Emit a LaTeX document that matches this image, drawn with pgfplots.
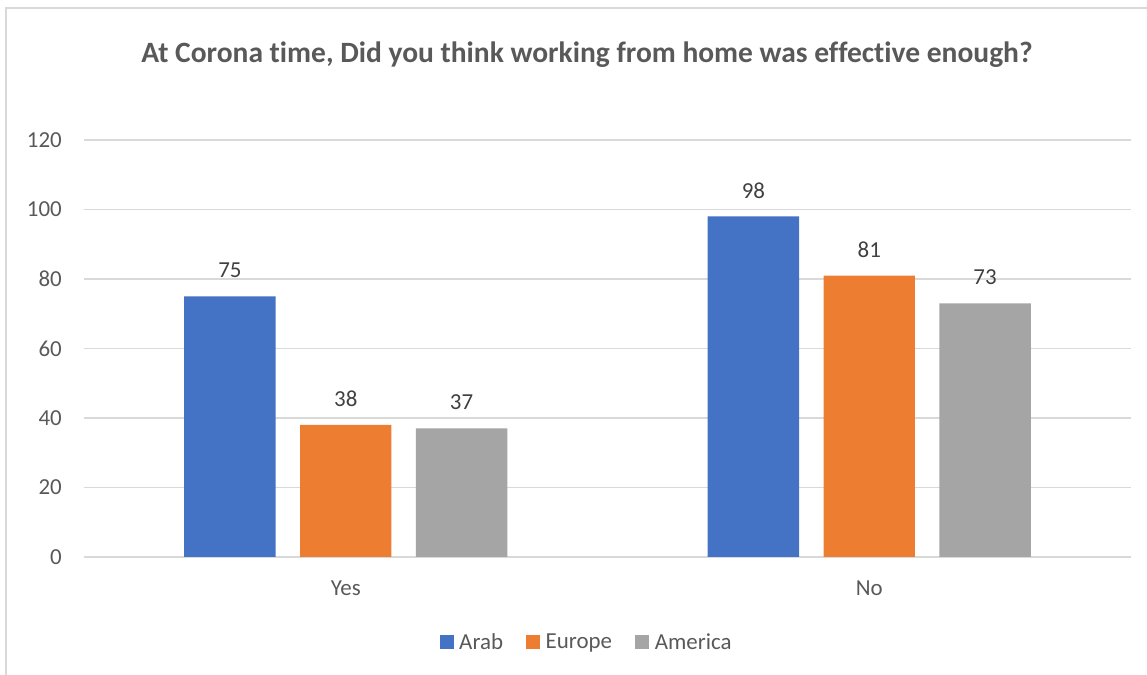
\documentclass[border=0pt]{standalone}
\usepackage{pgfplots}
\pgfplotsset{compat=1.18}
\usepackage{fontspec}
\setmainfont[Ligatures=NoCommon]{Carlito}
\definecolor{arab}{HTML}{4472C4}
\definecolor{europe}{HTML}{ED7D31}
\definecolor{america}{HTML}{A5A5A5}
\definecolor{gridc}{HTML}{D9D9D9}
\definecolor{txt}{HTML}{595959}
\definecolor{lbl}{HTML}{404040}
\newcommand{\tickfont}{\fontsize{23}{27}\selectfont}
\begin{document}
\begin{tikzpicture}[x=1bp,y=1bp]
\useasboundingbox (0,0) rectangle (1147,675);
\draw[gridc, line width=1.3bp] (6,-5) -- (6,667) -- (1152,667);
\node[anchor=base, text=txt, font=\fontsize{29.6}{34}\selectfont\bfseries] at (587,612.5) {At Corona time, Did you think working from home was effective enough?};
\begin{axis}[
  at={(84bp,118bp)}, anchor=south west,
  scale only axis, width=1047bp, height=417bp,
  ybar, bar width=91.4bp,
  xmin=-0.5, xmax=1.5, ymin=0, ymax=120,
  xtick={0,1}, xticklabels={Yes,No},
  ytick={0,20,...,120},
  ymajorgrids, grid style={gridc, line width=1.3bp},
  axis line style={draw=none},
  major tick length=0pt,
  /pgf/number format/assume math mode=true,
  tick label style={font=\tickfont, text=txt},
  yticklabel style={anchor=east, inner sep=0pt, xshift=-22bp},
  xticklabel style={anchor=center, inner sep=0pt, yshift=-31bp},
  nodes near coords,
  nodes near coords style={font=\tickfont, text=lbl, anchor=center, yshift=26bp},
  legend columns=-1,
  legend style={at={(0.479,-0.2038)}, anchor=center, draw=none, fill=none,
    inner sep=0pt, font=\tickfont, text=txt,
    nodes={inner sep=0pt},
    /tikz/every even column/.append style={column sep=23bp},
    /tikz/every odd column/.append style={column sep=5.7bp}},
  legend image code/.code={\fill[#1] (0bp,-7bp) rectangle (14bp,7bp);},
]
\addplot[fill=arab, draw=none, bar shift=-115.8bp] coordinates {(0,75) (1,98)};
\addplot[fill=europe, draw=none, bar shift=0bp] coordinates {(0,38) (1,81)};
\addplot[fill=america, draw=none, bar shift=115.8bp] coordinates {(0,37) (1,73)};
\legend{Arab,Europe,America}
\end{axis}
\end{tikzpicture}
\end{document}
